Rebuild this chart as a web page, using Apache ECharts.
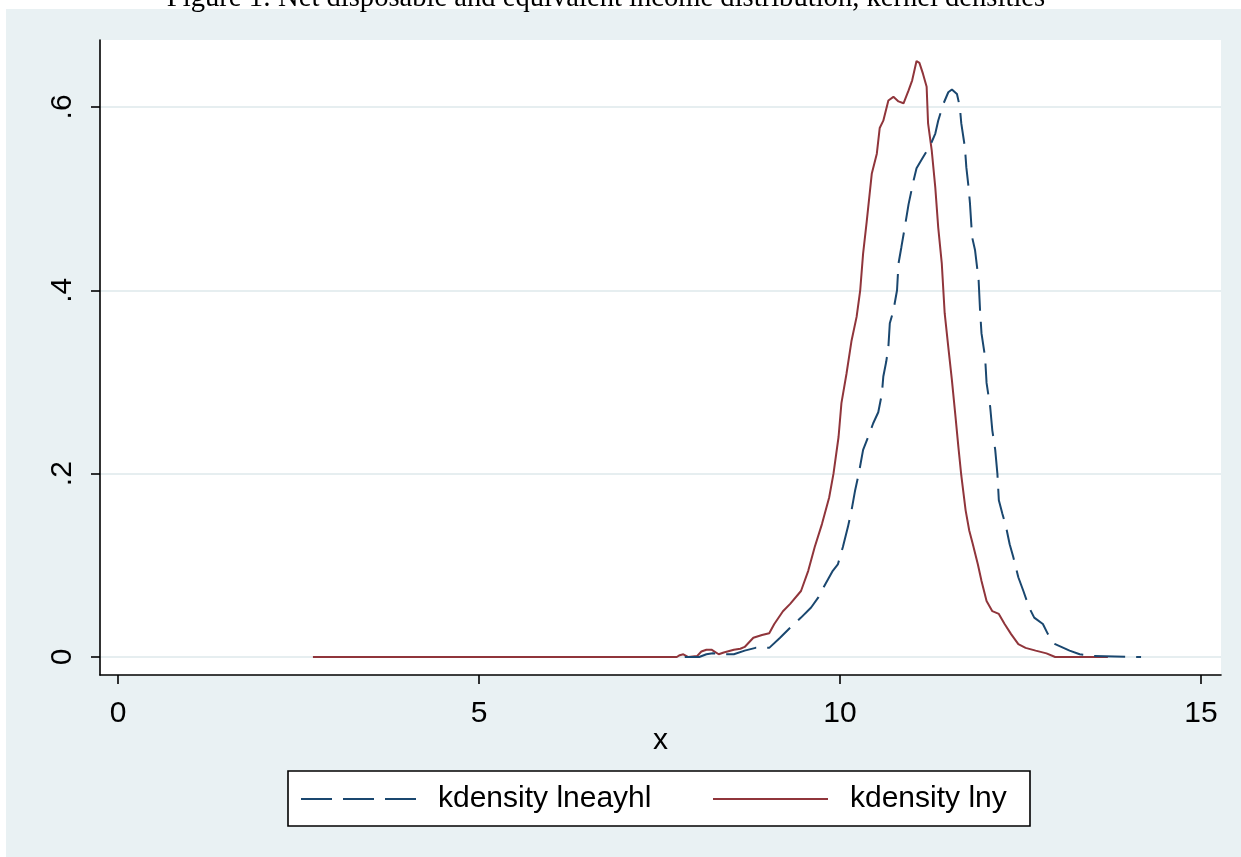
<!DOCTYPE html>
<html><head><meta charset="utf-8">
<script src="https://cdn.jsdelivr.net/npm/echarts@6/dist/echarts.min.js"></script>
<style>html,body{margin:0;padding:0;background:#fff}#c{width:1241px;height:857px}</style>
</head><body><div id="c"></div><script>
// ---- data ----
const titleText = 'Figure 1: Net disposable and equivalent income distribution, kernel densities';
const seriesNames = ['kdensity lneayhl', 'kdensity lny'];
const xTicks = [0, 5, 10, 15];
const xTickLabels = ['0', '5', '10', '15'];
const yTicks = [0, 0.2, 0.4, 0.6];
const yTickLabels = ['0', '.2', '.4', '.6'];
const xAxisTitle = 'x';

const xLneayhl = [7.85,7.90,8.05,8.15,8.24,8.40,8.53,8.68,8.83,9.02,9.17,9.31,9.46,9.60,9.70,9.80,9.90,9.97,10.04,10.11,10.16,10.21,10.26,10.32,10.39,10.46,10.53,10.58,10.60,10.64,10.67,10.69,10.74,10.79,10.81,10.85,10.90,10.95,11.02,11.06,11.15,11.25,11.32,11.36,11.43,11.50,11.55,11.62,11.66,11.68,11.73,11.75,11.78,11.80,11.83,11.87,11.92,11.94,11.96,12.01,12.03,12.08,12.11,12.15,12.18,12.20,12.25,12.30,12.35,12.40,12.47,12.54,12.62,12.69,12.81,12.88,12.98,13.18,13.32,13.52,14.17];
const yLneayhl = [0,0,0,0.003,0.004,0.003,0.003,0.007,0.010,0.010,0.021,0.032,0.043,0.054,0.065,0.080,0.094,0.101,0.120,0.142,0.160,0.182,0.200,0.226,0.240,0.255,0.267,0.287,0.306,0.322,0.338,0.364,0.378,0.400,0.429,0.447,0.470,0.494,0.520,0.533,0.545,0.558,0.571,0.585,0.603,0.616,0.619,0.614,0.600,0.582,0.556,0.534,0.513,0.495,0.458,0.444,0.411,0.378,0.353,0.327,0.299,0.273,0.247,0.226,0.200,0.171,0.156,0.142,0.123,0.109,0.087,0.072,0.054,0.043,0.036,0.025,0.014,0.007,0.003,0.001,0];

const xLny = [2.70,7.74,7.78,7.83,7.90,8.02,8.08,8.15,8.22,8.32,8.39,8.53,8.62,8.68,8.80,8.92,9.02,9.09,9.21,9.31,9.46,9.56,9.65,9.75,9.85,9.91,9.98,10.02,10.09,10.16,10.23,10.28,10.32,10.37,10.44,10.51,10.55,10.60,10.67,10.74,10.81,10.88,10.95,11.00,11.06,11.10,11.15,11.20,11.22,11.27,11.32,11.36,11.41,11.45,11.50,11.55,11.60,11.64,11.68,11.74,11.79,11.84,11.91,11.96,12.03,12.11,12.20,12.28,12.37,12.47,12.57,12.71,12.86,12.98,13.71];
const yLny = [0,0,0.002,0.003,0,0.001,0.006,0.008,0.008,0.003,0.005,0.008,0.009,0.011,0.021,0.024,0.026,0.036,0.050,0.058,0.072,0.094,0.120,0.145,0.174,0.200,0.240,0.277,0.309,0.345,0.371,0.400,0.440,0.475,0.527,0.549,0.577,0.585,0.607,0.611,0.606,0.604,0.618,0.629,0.650,0.648,0.636,0.622,0.582,0.553,0.512,0.469,0.429,0.375,0.338,0.302,0.262,0.229,0.198,0.160,0.138,0.123,0.101,0.083,0.061,0.050,0.047,0.036,0.025,0.014,0.010,0.007,0.004,0,0];

// ---- build ----
const zip = (xs, ys) => xs.map((x, i) => [x, ys[i]]);
const FONT = '"Liberation Sans", Arial, sans-serif';
const BLUE = '#1a476f', RED = '#90353b';
const DASH = [31, 11];
const yLabel = v => { const i = yTicks.findIndex(t => Math.abs(t - v) < 1e-6); return i >= 0 ? yTickLabels[i] : ''; };
const xLabel = v => { const i = xTicks.findIndex(t => Math.abs(t - v) < 1e-6); return i >= 0 ? xTickLabels[i] : ''; };

const chart = echarts.init(document.getElementById('c'), null, {renderer: 'canvas'});
const legendBase = {
  orient: 'horizontal', top: 784, padding: 0, itemWidth: 115, itemHeight: 20,
  itemStyle: {opacity: 0},
  lineStyle: {width: 2},
  textStyle: {fontFamily: FONT, fontSize: 30, color: '#000', padding: [0, 0, 0, 17]},
  selectedMode: false
};
chart.setOption({
  animation: false,
  backgroundColor: '#e9f1f3',
  graphic: [
    {type: 'rect', shape: {x: 0, y: 0, width: 1241, height: 9}, style: {fill: '#fff'}, silent: true},
    {type: 'rect', shape: {x: 0, y: 0, width: 6, height: 857}, style: {fill: '#fff'}, silent: true},
    {type: 'text', x: 606, y: -2, silent: true,
     style: {text: titleText, fill: '#000', font: '28.6px "Liberation Serif", serif', textAlign: 'center', textVerticalAlign: 'middle'}},
    {type: 'rect', shape: {x: 288, y: 771, width: 742, height: 55}, style: {fill: '#fff', stroke: '#000', lineWidth: 1.6}, silent: true, z: 1}
  ],
  grid: {left: 100, right: 20, top: 40, bottom: 182, show: true, backgroundColor: '#fff', borderWidth: 0},
  legend: [
    Object.assign({}, legendBase, {left: 300, data: [seriesNames[0]]}),
    Object.assign({}, legendBase, {left: 712, data: [seriesNames[1]]})
  ],
  xAxis: {
    type: 'value', min: -0.249, max: 15.277,
    name: xAxisTitle, nameLocation: 'middle', nameGap: 51, nameMoveOverlap: false,
    nameTextStyle: {fontFamily: FONT, fontSize: 30, color: '#000'},
    axisLine: {show: true, onZero: false, lineStyle: {color: '#000', width: 1.6}},
    axisTick: {show: true, length: 9, customValues: xTicks, lineStyle: {color: '#000', width: 1.6}},
    axisLabel: {customValues: xTicks, formatter: xLabel, margin: 24, fontFamily: FONT, fontSize: 30, color: '#000'},
    splitLine: {show: false}
  },
  yAxis: {
    type: 'value', min: -0.0196, max: 0.673,
    axisLine: {show: true, onZero: false, lineStyle: {color: '#000', width: 1.6}},
    axisTick: {show: true, length: 9, customValues: yTicks, lineStyle: {color: '#000', width: 1.6}},
    axisLabel: {customValues: yTicks, formatter: yLabel, rotate: 90, margin: 22, fontFamily: FONT, fontSize: 30, color: '#000'},
    splitLine: {show: true, lineStyle: {color: '#e6eef0', width: 2}}
  },
  series: [
    {name: seriesNames[1], type: 'line', data: zip(xLny, yLny), symbol: 'none', showSymbol: false, color: RED,
     lineStyle: {color: RED, width: 2}},
    {name: seriesNames[0], type: 'line', data: zip(xLneayhl, yLneayhl), symbol: 'none', showSymbol: false, color: BLUE,
     lineStyle: {color: BLUE, width: 2, type: DASH}}
  ]
});
</script></body></html>
